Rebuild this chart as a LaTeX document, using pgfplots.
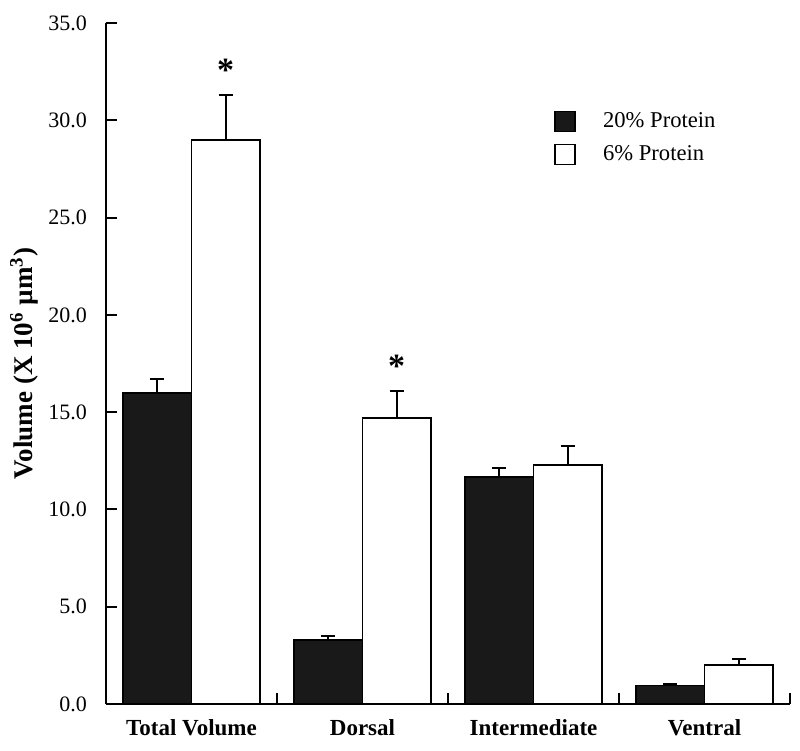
\documentclass[border=0pt]{standalone}
\usepackage{pgfplots}
\pgfplotsset{compat=1.18}
\usepackage{fontspec}
\setmainfont{Liberation Serif}
\begin{document}
\begin{tikzpicture}
\begin{axis}[
  scale only axis,
  width=342pt, height=340.5pt,
  xmin=-0.5, xmax=3.5,
  ymin=0, ymax=35,
  axis x line=bottom, axis y line=left,
  axis line style={-, line width=1pt},
  tick align=inside,
  major tick length=5.5pt,
  every tick/.style={black, line width=1pt},
  xtick={0.5,1.5,2.5,3.5},
  xticklabels={},
  major x tick style={yshift=5.5pt},
  extra x ticks={0,1,2,3},
  extra x tick labels={Total Volume, Dorsal, Intermediate, Ventral},
  extra x tick style={tick style={draw=none}},
  xticklabel style={font=\fontsize{11.5}{13}\selectfont\bfseries, yshift=1.5pt},
  ytick={0,5,...,35},
  yticklabel style={font=\fontsize{11}{13}\selectfont, xshift=-6pt},
  /pgf/number format/assume math mode=true,
  /pgf/number format/.cd, fixed, fixed zerofill, precision=1, /pgfplots/.cd,
  ylabel={\textbf{Volume (X 10\textsuperscript{6} µm\textsuperscript{3})}},
  ylabel style={font=\fontsize{13.5}{15}\selectfont, yshift=-2pt},
  ybar,
  bar width=34.25pt,
  legend style={draw=none, at={(0.655,0.875)}, anchor=north west,
    font=\fontsize{11.3}{13}\selectfont, row sep=3.5pt, inner sep=0pt,
    legend cell align=left},
  legend image code/.code={\draw[#1, line width=0.8pt] (0pt,-5pt) rectangle (10pt,5pt); \path (21.5pt,0pt);},
  clip=false,
]
\addplot[bar shift=-17.125pt, fill=black!90, draw=black, line width=0.9pt,
  error bars/.cd, y dir=plus, y explicit,
  error bar style={line width=1pt, black},
  error mark options={rotate=90, line width=1pt, mark size=3.5pt, black}]
  coordinates {(0,16.0) +- (0,0.7) (1,3.3) +- (0,0.2) (2,11.65) +- (0,0.5) (3,0.95) +- (0,0.1)};
\addlegendentry{20\% Protein}
\addplot[bar shift=17.125pt, fill=white, draw=black, line width=0.9pt,
  error bars/.cd, y dir=plus, y explicit,
  error bar style={line width=1pt, black},
  error mark options={rotate=90, line width=1pt, mark size=3.5pt, black}]
  coordinates {(0,29.0) +- (0,2.3) (1,14.7) +- (0,1.4) (2,12.3) +- (0,0.95) (3,2.0) +- (0,0.3)};
\addlegendentry{6\% Protein}
\node[font=\fontsize{17}{19}\selectfont\bfseries] at (axis cs:0.2,32.55) {*};
\node[font=\fontsize{17}{19}\selectfont\bfseries] at (axis cs:1.2,17.35) {*};
\end{axis}
\pgfresetboundingbox
\path (current axis.south west) ++(-53pt,-23pt) coordinate (bl);
\path (current axis.north east) ++(5pt,11.5pt) coordinate (tr);
\path (bl) rectangle (tr);
\end{tikzpicture}
\end{document}
